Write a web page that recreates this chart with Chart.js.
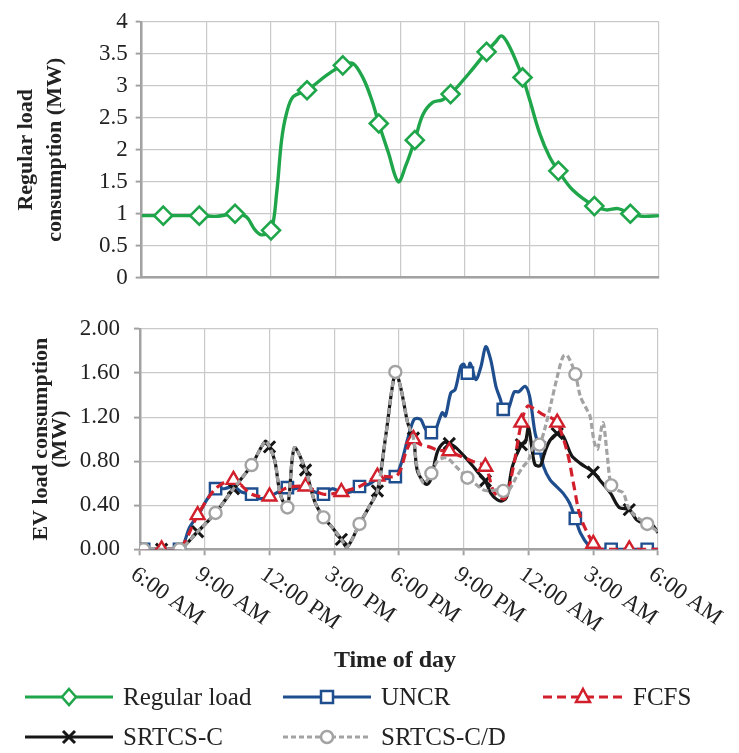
<!DOCTYPE html>
<html>
<head>
<meta charset="utf-8">
<script src="https://cdn.jsdelivr.net/npm/chart.js@4.4.0/dist/chart.umd.min.js"></script>
<style>
html,body{margin:0;padding:0;background:#fff;}
#wrap{position:relative;width:739px;height:753px;overflow:hidden;font-family:'Liberation Serif','Times New Roman',serif;color:#222;}
#c1{position:absolute;left:0;top:0;}
#c2{position:absolute;left:0;top:300px;}
#xtitle{position:absolute;left:245px;width:300px;top:645px;text-align:center;font-weight:bold;font-size:24px;line-height:28px;}
.leg{position:absolute;height:30px;display:flex;align-items:center;font-size:25px;white-space:nowrap;}
.leg svg{margin-right:10px;}
</style>
</head>
<body>
<div id="wrap">
<canvas id="c1" width="739" height="300"></canvas>
<canvas id="c2" width="739" height="453"></canvas>
<div id="xtitle">Time of day</div>
<div id="legend"></div>
</div>
<script>
// ---- axis data ----
const xTickHours = [0, 3, 6, 9, 12, 15, 18, 21, 24];
const xTickLabels = ['6:00 AM', '9:00 AM', '12:00 PM', '3:00 PM', '6:00 PM', '9:00 PM', '12:00 AM', '3:00 AM', '6:00 AM'];
const xAxisTitle = 'Time of day';
const topYTitle = ['Regular load', 'consumption (MW)'];
const bottomYTitle = ['EV load consumption', '(MW)'];
const seriesNames = ['Regular load', 'UNCR', 'FCFS', 'SRTCS-C', 'SRTCS-C/D'];

// marker positions (hours after 6:00 AM)
const markHoursA = [0.17, 1.83, 3.5, 5.17, 6.83, 8.5, 10.17, 11.83, 13.5, 15.17, 16.83, 18.5, 20.17, 21.83, 23.5];
const markHoursB = [1, 2.67, 4.33, 6, 7.67, 9.33, 11, 12.67, 14.33, 16, 17.67, 19.33, 21, 22.67];

// ---- Regular load (MW) ----
const regHours = [0, 1, 2.67, 3.5, 4.33, 4.86, 5.25, 5.56, 6, 6.26, 6.49, 6.72, 7.03, 7.67, 8.6, 9.33, 9.8, 10.3, 10.7, 11, 11.45, 11.9, 12.25, 12.67, 13.05, 13.5, 13.95, 14.33, 15.2, 16, 16.4, 16.7, 17.05, 17.67, 18.0, 18.46, 18.92, 19.33, 20.0, 21, 21.55, 22.1, 22.67, 23.2, 24];
const regValues = [0.97, 0.97, 0.97, 0.96, 1.0, 0.95, 0.75, 0.67, 0.74, 1.32, 2.15, 2.57, 2.83, 2.93, 3.17, 3.32, 3.35, 3.1, 2.75, 2.41, 1.95, 1.5, 1.75, 2.15, 2.55, 2.74, 2.78, 2.87, 3.2, 3.53, 3.68, 3.78, 3.62, 3.13, 2.78, 2.26, 1.89, 1.67, 1.37, 1.12, 1.06, 1.08, 1.0, 0.96, 0.97];

// ---- UNCR (MW) ----
const uncrHours = [0, 0.17, 1.83, 2.3, 2.75, 3.1, 3.5, 3.9, 4.35, 4.7, 5.17, 5.5, 6.0, 6.4, 6.83, 7.2, 7.67, 8.1, 8.5, 8.9, 9.33, 9.75, 10.17, 10.6, 11.0, 11.3, 11.83, 12.1, 12.4, 12.7, 13.0, 13.23, 13.5, 13.7, 14.0, 14.15, 14.4, 14.6, 14.86, 15.0, 15.17, 15.3, 15.56, 15.8, 16.02, 16.25, 16.49, 16.7, 16.83, 17.05, 17.34, 17.55, 17.84, 18.05, 18.3, 18.5, 18.7, 19.0, 19.3, 19.6, 19.9, 20.17, 20.4, 20.8, 21.1, 21.83, 23.5, 24];
const uncrValues = [0, 0, 0, 0.2, 0.33, 0.45, 0.55, 0.55, 0.57, 0.52, 0.50, 0.46, 0.48, 0.52, 0.56, 0.55, 0.57, 0.52, 0.50, 0.55, 0.52, 0.52, 0.57, 0.59, 0.64, 0.64, 0.66, 0.78, 1.0, 1.18, 1.18, 1.09, 1.06, 1.09, 1.24, 1.21, 1.42, 1.45, 1.66, 1.68, 1.60, 1.69, 1.54, 1.66, 1.84, 1.72, 1.48, 1.36, 1.27, 1.27, 1.43, 1.43, 1.48, 1.39, 1.06, 0.92, 0.75, 0.63, 0.57, 0.51, 0.42, 0.28, 0.15, 0.03, 0, 0, 0, 0];

// ---- FCFS (MW) ----
const fcfsHours = [0, 1, 1.83, 2.67, 3.5, 4.33, 5.17, 6, 6.83, 7.67, 8.5, 9.33, 10.17, 11, 11.83, 12.07, 12.35, 12.67, 13.0, 13.4, 13.8, 14.33, 14.8, 15.4, 16, 16.4, 16.9, 17.3, 17.67, 17.96, 18.3, 18.7, 19.0, 19.33, 19.8, 20.1, 20.4, 21, 21.3, 22.67, 24];
const fcfsValues = [0, 0, 0, 0.31, 0.55, 0.63, 0.50, 0.48, 0.56, 0.57, 0.50, 0.52, 0.57, 0.66, 0.66, 0.72, 0.9, 1.0, 0.95, 0.93, 0.9, 0.89, 0.85, 0.8, 0.75, 0.52, 0.46, 0.75, 1.15, 1.30, 1.27, 1.22, 1.2, 1.15, 0.88, 0.58, 0.30, 0.05, 0, 0, 0];

// ---- SRTCS-C (MW) ----
const srtcsHours = [0, 1, 1.83, 2.67, 3.5, 4.33, 5.17, 5.8, 6, 6.25, 6.5, 6.83, 7.15, 7.67, 8.1, 8.5, 8.9, 9.33, 9.6, 10.17, 10.6, 11, 11.4, 11.83, 12.1, 12.4, 12.67, 12.84, 13.1, 13.3, 13.5, 13.77, 14.08, 14.33, 14.6, 15.0, 15.4, 15.65, 16, 16.25, 16.55, 16.8, 17.0, 17.25, 17.67, 17.85, 18.0, 18.15, 18.3, 18.55, 18.75, 19.0, 19.33, 19.6, 20.0, 20.4, 21, 21.3, 21.8, 22.2, 22.67, 23.0, 23.3, 23.7, 24];
const srtcsValues = [0, 0, 0, 0.16, 0.33, 0.55, 0.765, 0.98, 0.93, 0.8, 0.5, 0.38, 0.92, 0.72, 0.43, 0.29, 0.2, 0.09, 0.02, 0.23, 0.38, 0.53, 1.05, 1.61, 1.45, 1.15, 1.01, 0.72, 0.62, 0.59, 0.65, 0.88, 0.97, 0.96, 0.93, 0.85, 0.76, 0.70, 0.62, 0.51, 0.45, 0.44, 0.48, 0.75, 0.95, 0.97, 1.11, 0.93, 0.77, 0.76, 0.88, 0.99, 1.05, 1.03, 0.85, 0.78, 0.70, 0.63, 0.51, 0.38, 0.36, 0.27, 0.24, 0.23, 0.15];

// ---- SRTCS-C/D (MW) ----
const srtcsdHours = [0, 0.17, 1, 1.83, 2.67, 3.5, 4.33, 5.17, 5.8, 6, 6.25, 6.5, 6.83, 7.15, 7.67, 8.1, 8.5, 8.9, 9.33, 9.6, 10.17, 10.6, 11, 11.4, 11.83, 12.1, 12.4, 12.67, 12.84, 13.15, 13.5, 13.75, 14.05, 14.3, 14.6, 14.9, 15.17, 15.5, 15.9, 16.2, 16.5, 16.83, 17.1, 17.45, 17.75, 18.0, 18.25, 18.5, 18.75, 19.05, 19.3, 19.6, 19.8, 20.17, 20.4, 20.7, 20.85, 21.05, 21.2, 21.45, 21.65, 21.83, 22.1, 22.4, 22.6, 22.9, 23.5, 24];
const srtcsdValues = [0, 0, 0, 0, 0.16, 0.33, 0.55, 0.765, 0.98, 0.93, 0.8, 0.5, 0.38, 0.92, 0.72, 0.43, 0.29, 0.2, 0.09, 0.02, 0.23, 0.38, 0.53, 1.05, 1.61, 1.45, 1.15, 1.01, 0.75, 0.60, 0.69, 0.79, 0.83, 0.82, 0.76, 0.70, 0.65, 0.60, 0.54, 0.53, 0.54, 0.53, 0.54, 0.66, 0.75, 0.81, 0.94, 0.95, 1.09, 1.33, 1.54, 1.75, 1.76, 1.59, 1.39, 1.27, 1.21, 0.97, 0.91, 1.15, 0.85, 0.58, 0.54, 0.51, 0.39, 0.31, 0.23, 0.16];

// ---- styles ----
const SERIF = "'Liberation Serif', 'Times New Roman', serif";
const TEXT = '#222222';
const GRID = '#C9C9C9';
const AXIS = '#A2A2A2';
const GREEN = '#1FA64A';
const BLUE = '#1F4E8F';
const RED = '#D11F2C';
const BLACK = '#161616';
const GRAY = '#A3A3A3';

function toPoints(hs, vs) { return hs.map((h, i) => ({x: h, y: vs[i]})); }
function markRadius(marks, r) {
  return ctx => (ctx.raw && marks.some(m => Math.abs(m - ctx.raw.x) < 0.001)) ? r : 0;
}

const commonOpts = {
  responsive: false, animation: false, devicePixelRatio: 1, events: [],
  plugins: {legend: {display: false}, tooltip: {enabled: false}}
};

// ---- top chart ----
new Chart(document.getElementById('c1'), {
  type: 'line',
  data: {datasets: [{
    label: seriesNames[0], data: toPoints(regHours, regValues),
    borderColor: GREEN, borderWidth: 3.4, tension: 0.35, fill: false,
    pointStyle: 'rectRot', pointRadius: markRadius(markHoursB, 9), pointHoverRadius: markRadius(markHoursB, 9),
    pointBorderColor: GREEN, pointBackgroundColor: '#fff', pointBorderWidth: 2.6
  }]},
  options: Object.assign({}, commonOpts, {
    layout: {padding: {left: 0, right: 80, top: 21.7, bottom: 0}},
    scales: {
      x: {type: 'linear', min: 0, max: 24,
        ticks: {display: false, stepSize: 3},
        grid: {color: GRID, lineWidth: 1.2, drawTicks: false},
        border: {color: AXIS, width: 2.5},
        afterFit(s) { s.height = 22.3; }},
      y: {min: 0, max: 4,
        ticks: {stepSize: 0.5, font: {family: SERIF, size: 23}, color: TEXT, padding: 8,
          callback: v => String(Number(Number(v).toFixed(2)))},
        grid: {color: GRID, lineWidth: 1.2, tickLength: 6, tickColor: AXIS, tickWidth: 2},
        border: {color: AXIS, width: 2.5},
        title: {display: true, text: topYTitle, color: TEXT,
          font: {family: SERIF, size: 22, weight: 'bold', lineHeight: 1.3}, padding: {top: 12, bottom: 0}},
        afterFit(s) { s.width = 141.7; }}
    }
  })
});

// ---- bottom chart ----
const rotatedLabels = {
  id: 'rotatedLabels',
  afterDraw(chart) {
    const xs = chart.scales.x, ctx = chart.ctx, area = chart.chartArea;
    ctx.save();
    ctx.font = '23px ' + SERIF;
    ctx.fillStyle = TEXT;
    ctx.textAlign = 'left';
    ctx.textBaseline = 'middle';
    xTickHours.forEach((h, i) => {
      const px = xs.getPixelForValue(h);
      ctx.save();
      ctx.translate(px - 7, area.bottom + 23);
      ctx.rotate(35 * Math.PI / 180);
      ctx.fillText(xTickLabels[i], 0, 0);
      ctx.restore();
    });
    ctx.restore();
  }
};

new Chart(document.getElementById('c2'), {
  type: 'line',
  data: {datasets: [
    {label: seriesNames[1], data: toPoints(uncrHours, uncrValues), order: 4,
      borderColor: BLUE, borderWidth: 3.2, tension: 0.3, fill: false,
      pointStyle: 'rect', pointRadius: markRadius(markHoursA, 8), pointHoverRadius: markRadius(markHoursA, 8),
      pointBorderColor: BLUE, pointBackgroundColor: '#fff', pointBorderWidth: 2.4},
    {label: seriesNames[2], data: toPoints(fcfsHours, fcfsValues), order: 2,
      borderColor: RED, borderWidth: 3.2, borderDash: [9, 5], tension: 0.3, fill: false,
      pointStyle: 'triangle', pointRadius: markRadius(markHoursB, 8), pointHoverRadius: markRadius(markHoursB, 8),
      pointBorderColor: RED, pointBackgroundColor: '#fff', pointBorderWidth: 2.4},
    {label: seriesNames[3], data: toPoints(srtcsHours, srtcsValues), order: 3,
      borderColor: BLACK, borderWidth: 3.2, tension: 0.3, fill: false,
      pointStyle: 'crossRot', pointRadius: markRadius(markHoursB, 8), pointHoverRadius: markRadius(markHoursB, 8),
      pointBorderColor: BLACK, pointBackgroundColor: BLACK, pointBorderWidth: 3},
    {label: seriesNames[4], data: toPoints(srtcsdHours, srtcsdValues), order: 1,
      borderColor: GRAY, borderWidth: 3.2, borderDash: [6, 3], tension: 0.3, fill: false,
      pointStyle: 'circle', pointRadius: markRadius(markHoursA, 6), pointHoverRadius: markRadius(markHoursA, 6),
      pointBorderColor: GRAY, pointBackgroundColor: '#fff', pointBorderWidth: 2.4}
  ]},
  options: Object.assign({}, commonOpts, {
    layout: {padding: {left: 0, right: 81, top: 29, bottom: 195.7}},
    scales: {
      x: {type: 'linear', min: 0, max: 24,
        ticks: {display: false, stepSize: 3},
        grid: {color: GRID, lineWidth: 1.2, drawTicks: true, tickLength: 6, tickColor: AXIS, tickWidth: 2},
        border: {color: AXIS, width: 2.5},
        afterFit(s) { s.height = 8; }},
      y: {min: 0, max: 2,
        ticks: {stepSize: 0.4, font: {family: SERIF, size: 23}, color: TEXT, padding: 14,
          callback: v => Number(v).toFixed(2)},
        grid: {color: GRID, lineWidth: 1.2, tickLength: 6, tickColor: AXIS, tickWidth: 2},
        border: {color: AXIS, width: 2.5},
        title: {display: true, text: bottomYTitle, color: TEXT,
          font: {family: SERIF, size: 22, weight: 'bold', lineHeight: 0.9}, padding: {top: 31, bottom: 0}},
        afterFit(s) { s.width = 140; }}
    }
  }),
  plugins: [rotatedLabels]
});

// ---- legend ----
document.getElementById('xtitle').textContent = xAxisTitle;
const legendStyles = [
  {color: GREEN, dash: '', marker: 'diamond', left: 25, top: 682, w: 88},
  {color: BLUE, dash: '', marker: 'square', left: 283, top: 682, w: 88},
  {color: RED, dash: '9,5', marker: 'triangle', left: 543, top: 682, w: 80},
  {color: BLACK, dash: '', marker: 'x', left: 25, top: 722, w: 88},
  {color: GRAY, dash: '5,3', marker: 'circle', left: 283, top: 722, w: 88}
];
function markerSvg(m, c, cx, cy) {
  if (m === 'diamond') return `<polygon points="${cx},${cy-8} ${cx+7},${cy} ${cx},${cy+8} ${cx-7},${cy}" fill="#fff" stroke="${c}" stroke-width="2.5"/>`;
  if (m === 'square') return `<rect x="${cx-6}" y="${cy-6}" width="12" height="12" fill="#fff" stroke="${c}" stroke-width="2.5"/>`;
  if (m === 'triangle') return `<polygon points="${cx},${cy-8} ${cx+7},${cy+5} ${cx-7},${cy+5}" fill="#fff" stroke="${c}" stroke-width="2.5"/>`;
  if (m === 'x') return `<path d="M${cx-6},${cy-6} L${cx+6},${cy+6} M${cx+6},${cy-6} L${cx-6},${cy+6}" stroke="${c}" stroke-width="3"/>`;
  return `<circle cx="${cx}" cy="${cy}" r="6" fill="#fff" stroke="${c}" stroke-width="2.5"/>`;
}
const legendEl = document.getElementById('legend');
seriesNames.forEach((name, i) => {
  const s = legendStyles[i];
  const d = document.createElement('div');
  d.className = 'leg';
  d.style.left = s.left + 'px';
  d.style.top = s.top + 'px';
  const w = s.w, cy = 15;
  d.innerHTML = `<svg width="${w}" height="30"><line x1="0" y1="${cy}" x2="${w}" y2="${cy}" stroke="${s.color}" stroke-width="3" ${s.dash ? `stroke-dasharray="${s.dash}"` : ''}/>${markerSvg(s.marker, s.color, w/2, cy)}</svg><span>${name}</span>`;
  legendEl.appendChild(d);
});
</script>
</body>
</html>
